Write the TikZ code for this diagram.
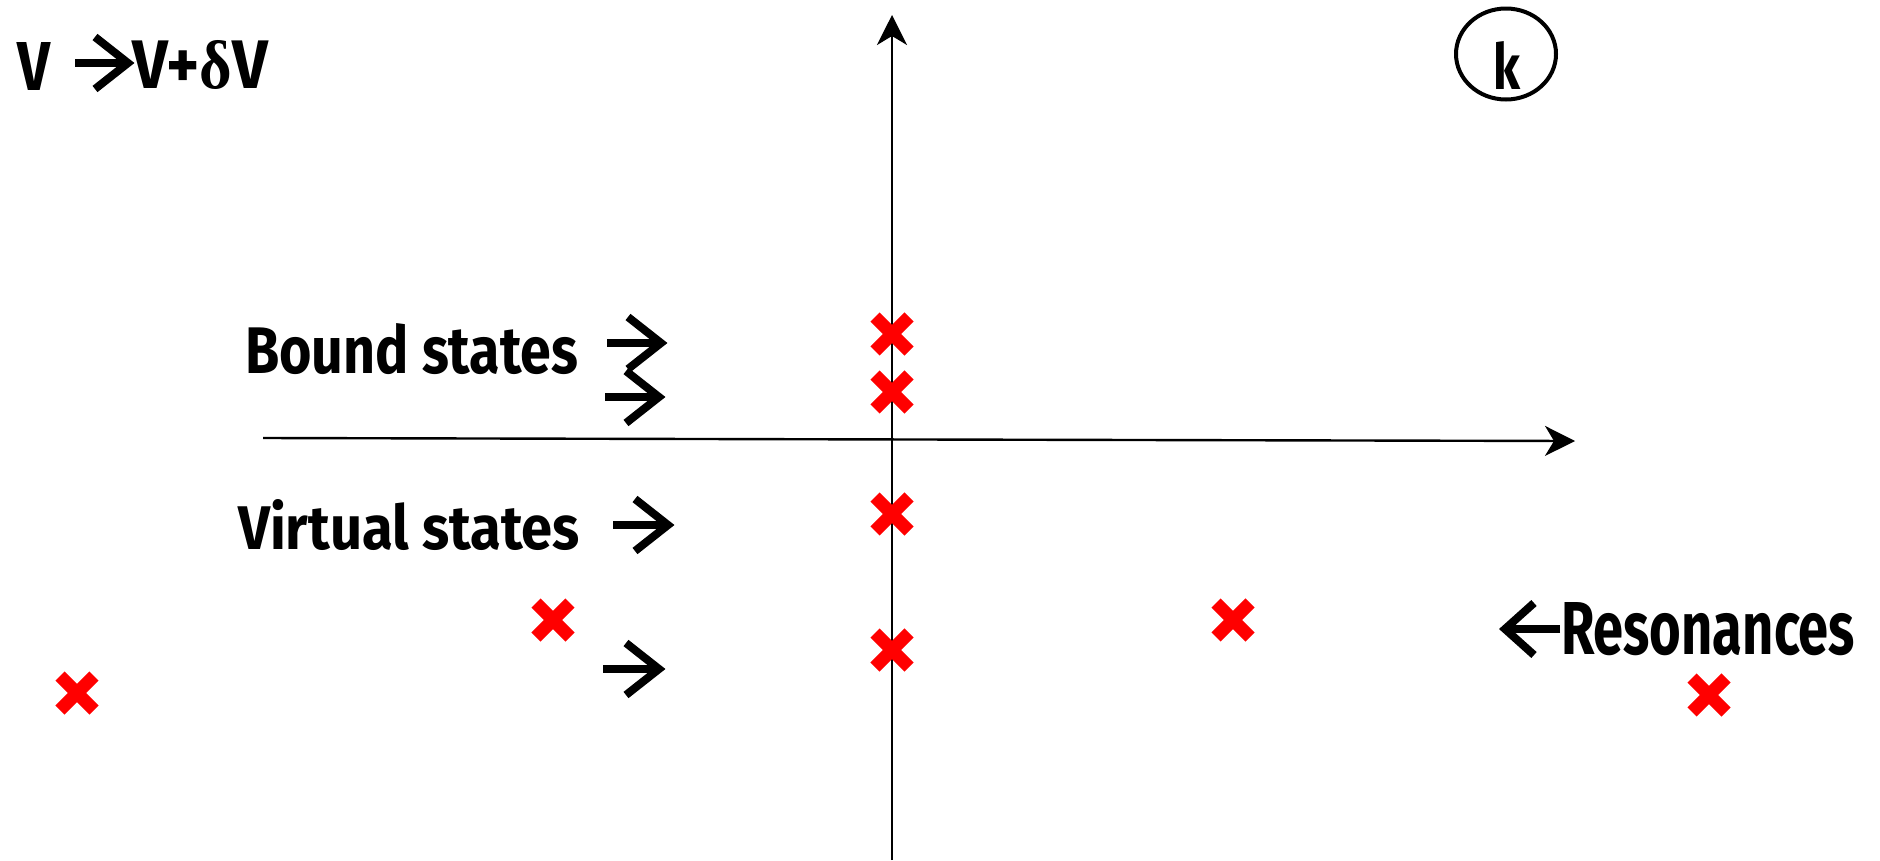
\documentclass[tikz,border=0pt]{standalone}
\usepackage{fontspec}
\usepackage{graphicx}
\usetikzlibrary{arrows.meta,shapes.geometric,shapes.misc}
\newfontfamily\hand{Fira Sans}
\newfontfamily\serifdelta{Liberation Serif}
\newcommand{\fitbox}[3]{\resizebox{#1pt}{#2pt}{#3}}
\tikzset{
  lbl/.style={inner sep=0pt, outer sep=0pt, anchor=south west, font=\hand\bfseries},
  pole/.style={cross out, draw=red, line width=13pt, minimum size=34pt, inner sep=0pt, outer sep=0pt},
  axisline/.style={line width=2.4pt, -{Stealth[length=30pt,width=30pt,inset=9pt]}},
  chev/.style={line width=8pt, line join=miter, line cap=butt},
}
% right-pointing chevron arrow: name, x of shaft start, y, tip x
\newcommand{\rarrow}[4]{%
  \coordinate (#1s) at (#2,#3);
  \coordinate (#1t) at (#4,#3);
  \draw[chev] (#1s) -- (#1t);
  \draw[chev] ([shift={(-33,-26)}]#1t) -- (#1t) -- ([shift={(-33,26)}]#1t);
}
\begin{document}
\begin{tikzpicture}[x=1pt,y=-1pt]
\useasboundingbox (0,0) rectangle (1880,860);
% axes
\coordinate (vbot) at (892,860);
\coordinate (vtop) at (892,15);
\coordinate (hl) at (263,438);
\coordinate (hr) at (1575,441);
\draw[axisline] (vbot) -- (vtop);
\draw[axisline] (hl) -- (hr);
% poles
\node[pole] (p1) at (892,334) {};
\node[pole] (p2) at (892,392) {};
\node[pole] (p3) at (892,514) {};
\node[pole] (p4) at (892,650) {};
\node[pole] (p5) at (553,620) {};
\node[pole] (p6) at (77,693) {};
\node[pole] (p7) at (1233,620) {};
\node[pole] (p8) at (1709,695) {};
% k label
\coordinate (kc) at (1506,54);
\draw[line width=4pt] (kc) ellipse [x radius=50, y radius=45.5];
\node[lbl] (k) at (1493,89) {\fitbox{27}{48}{k}};
% top-left
\node[lbl] (v1) at (17,90) {\fitbox{33}{48}{V}};
\rarrow{ta}{75}{63}{128}
\node[lbl] (v2) at (132,90) {\fitbox{136}{48}{V+{\serifdelta δ}V}};
% labels
\node[lbl] (bound) at (245,375) {\fitbox{333}{50}{Bound states}};
\rarrow{a1}{607}{343}{661}
\rarrow{a2}{605}{397}{659}
\node[lbl] (virtual) at (238,551) {\fitbox{342}{50}{Virtual states}};
\rarrow{a3}{613}{525}{668}
\rarrow{a4}{603}{669}{659}
% resonances
\coordinate (rt) at (1505,629);
\coordinate (rs) at (1560,629);
\draw[chev] (rs) -- (rt);
\draw[chev] ([shift={(29,-26)}]rt) -- (rt) -- ([shift={(29,26)}]rt);
\node[lbl] (reson) at (1561,656) {\fitbox{294}{52}{Resonances}};
\end{tikzpicture}
\end{document}
